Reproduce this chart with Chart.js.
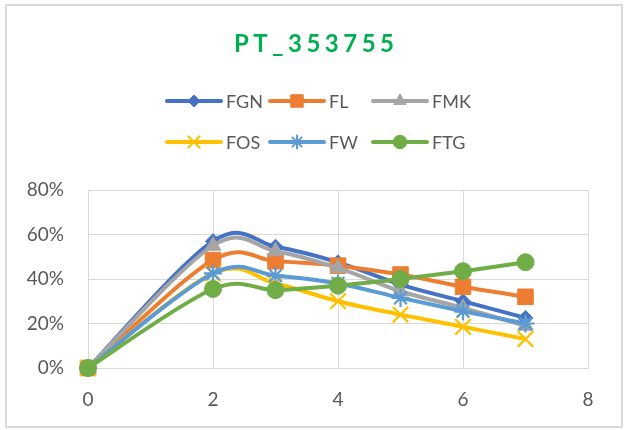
<!DOCTYPE html>
<html>
<head>
<meta charset="utf-8">
<title>PT_353755</title>
<script src="https://cdn.jsdelivr.net/npm/chart.js@4.4.1/dist/chart.umd.min.js"></script>
<style>
  html, body { margin: 0; padding: 0; background: #fff; }
  #wrap { width: 630px; height: 430px; }
</style>
</head>
<body>
<div id="wrap"><canvas id="chart" width="630" height="430"></canvas></div>
<script>
//-- Data //
const chartTitle = 'PT_353755';
const xValues = [0, 2, 3, 4, 5, 6, 7];
const seriesNames = ['FGN', 'FL', 'FMK', 'FOS', 'FW', 'FTG'];
const fgnValues = [0, 57, 54.5, 47.5, 37.5, 30, 22.5];
const flValues = [0, 48.5, 48, 46, 42, 36.5, 32];
const fmkValues = [0, 55, 52.5, 45, 34.5, 27, 19];
const fosValues = [0, 42.5, 38, 30, 24, 18.5, 13];
const fwValues = [0, 42.5, 41.5, 38, 31.5, 25.5, 20];
const ftgValues = [0, 35.5, 35, 37, 40, 43.5, 47.5];
const xTicks = [0, 2, 4, 6, 8];
const yTicks = [0, 20, 40, 60, 80];

//-- Look //
const seriesColors = ['#4472C4', '#ED7D31', '#A5A5A5', '#FFC000', '#5B9BD5', '#70AD47'];
const seriesMarkers = ['rectRot', 'rect', 'triangle', 'crossRot', 'star', 'circle'];
const markerSizes = [7.5, 11, 9, 11, 9, 8.5];
const gridColor = '#D9D9D9';
const textColor = '#595959';
const fontFamily = 'Lato, "Open Sans", sans-serif';

const allValues = [fgnValues, flValues, fmkValues, fosValues, fwValues, ftgValues];

const isCross = style => style === 'crossRot' || style === 'star';

const datasets = seriesNames.map((name, i) => ({
    label: name,
    data: xValues.map((x, j) => ({ x, y: allValues[i][j] })),
    borderColor: seriesColors[i],
    backgroundColor: seriesColors[i],
    borderWidth: 4,
    tension: 0.4,
    clip: false,
    pointStyle: seriesMarkers[i],
    pointRadius: markerSizes[i],
    pointHoverRadius: markerSizes[i],
    pointBorderWidth: isCross(seriesMarkers[i]) ? 2.2 : 1,
    pointBorderColor: seriesColors[i],
    pointBackgroundColor: seriesColors[i],
    // later series sit on top
    order: seriesNames.length - i
}));

//-- Office style smoothing: control points a sixth of the neighbour span //
const smoothCurves = {
    id: 'smoothCurves',
    beforeDatasetsDraw(chart) {
        chart.getSortedVisibleDatasetMetas().forEach(meta => {
            const pts = meta.data;
            pts.forEach((p, i) => {
                const prev = pts[i - 1] || p;
                const next = pts[i + 1] || p;
                const dx = (next.x - prev.x) / 6;
                const dy = (next.y - prev.y) / 6;
                p.cp1x = p.x - dx;
                p.cp1y = p.y - dy;
                p.cp2x = p.x + dx;
                p.cp2y = p.y + dy;
            });
            if (meta.dataset) meta.dataset._pointsUpdated = true;
        });
    }
};

//-- Title, legend and frame drawn straight onto the canvas //
const legendSlots = [
    [167, 101], [270, 101], [373, 101],
    [167, 142], [270, 142], [373, 142]
];

const decorations = {
    id: 'decorations',
    afterDraw(chart) {
        const c = chart.ctx;
        c.save();

        // outer frame
        c.strokeStyle = gridColor;
        c.lineWidth = 2;
        c.strokeRect(6, 5, 616, 422);

        // title
        c.font = 'bold 24px ' + fontFamily;
        c.fillStyle = '#00B050';
        c.textBaseline = 'alphabetic';
        c.textAlign = 'left';
        c.letterSpacing = '4.5px';
        const tw = c.measureText(chartTitle).width - 4.5;
        c.fillText(chartTitle, 314 - tw / 2, 52);
        c.letterSpacing = '0px';

        // legend
        c.font = '18px ' + fontFamily;
        c.textBaseline = 'middle';
        seriesNames.forEach((name, i) => {
            const [lx, ly] = legendSlots[i];
            c.strokeStyle = seriesColors[i];
            c.fillStyle = seriesColors[i];
            c.lineWidth = 4;
            c.lineCap = 'round';
            c.beginPath();
            c.moveTo(lx, ly);
            c.lineTo(lx + 54, ly);
            c.stroke();
            c.lineCap = 'butt';
            c.lineWidth = isCross(seriesMarkers[i]) ? 2 : 1;
            Chart.helpers.drawPoint(c, {
                pointStyle: seriesMarkers[i],
                radius: markerSizes[i] * 0.8,
                rotation: 0,
                borderWidth: c.lineWidth
            }, lx + 27, ly);
            c.fillStyle = textColor;
            c.fillText(name, lx + 59, ly + 1);
        });
        c.restore();
    }
};

//-- Chart //
const ctx = document.getElementById('chart');

const chart = new Chart(ctx, {
    type: 'line',
    data: { datasets },
    options: {
        responsive: false,
        animation: false,
        devicePixelRatio: 1,
        layout: { padding: { top: 190, right: 42, bottom: 0, left: 0 } },
        plugins: {
            legend: { display: false },
            title: { display: false },
            tooltip: { enabled: false }
        },
        scales: {
            x: {
                type: 'linear',
                min: xTicks[0],
                max: xTicks[xTicks.length - 1],
                afterFit: scale => { scale.height = 62; },
                afterBuildTicks: scale => { scale.ticks = xTicks.map(v => ({ value: v })); },
                grid: { color: gridColor, lineWidth: 1, drawTicks: false },
                border: { color: gridColor, width: 1 },
                ticks: {
                    padding: 20,
                    color: textColor,
                    font: { family: fontFamily, size: 19 }
                }
            },
            y: {
                min: yTicks[0],
                max: yTicks[yTicks.length - 1],
                afterFit: scale => { scale.width = 88; },
                afterBuildTicks: scale => { scale.ticks = yTicks.map(v => ({ value: v })); },
                grid: { color: gridColor, lineWidth: 1, drawTicks: false },
                border: { color: gridColor, width: 1 },
                ticks: {
                    padding: 24,
                    color: textColor,
                    font: { family: fontFamily, size: 19 },
                    callback: v => v + '%'
                }
            }
        }
    },
    plugins: [smoothCurves, decorations]
});
</script>
</body>
</html>
